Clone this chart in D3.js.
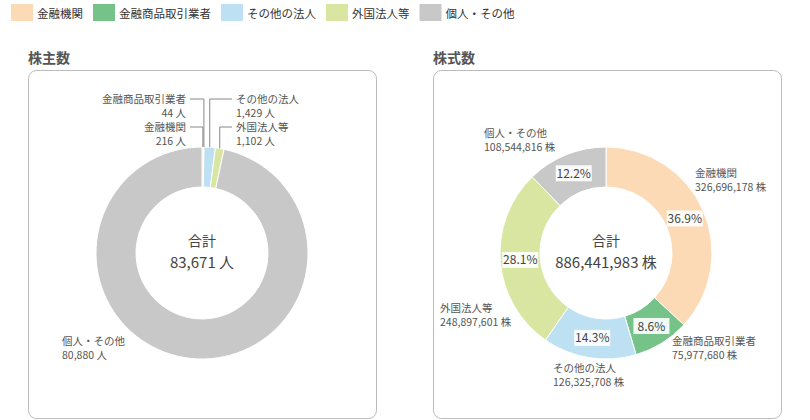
<!DOCTYPE html>
<html><head><meta charset="utf-8">
<script src="https://cdn.jsdelivr.net/npm/d3@7"></script>
<style>
body{margin:0;background:#fff;font-family:"Noto Sans CJK JP",sans-serif;}
text{font-family:"Noto Sans CJK JP",sans-serif;}
</style></head><body>
<svg id="chart" width="810" height="420"></svg>
<script>
const categories = ['金融機関', '金融商品取引業者', 'その他の法人', '外国法人等', '個人・その他'];
const colors = ['#fcdab5', '#76c38a', '#bde0f3', '#d8e6a2', '#c8c8c8'];
const holders = [216, 44, 1429, 1102, 80880];
const shares = [326696178, 75977680, 126325708, 248897601, 108544816];
const sharePct = ['36.9%', '8.6%', '14.3%', '28.1%', '12.2%'];

const svg = d3.select('#chart');
const fmt = d3.format(',');
const txtColor = '#555';

// legend, laid out by measured text width
let lx = 11;
categories.forEach((c, i) => {
  const g = svg.append('g').attr('transform', `translate(${lx},4)`);
  g.append('rect').attr('width', 22).attr('height', 17).attr('fill', colors[i]);
  const t = g.append('text').attr('x', 26).attr('y', 14).attr('font-size', 11.5).attr('fill', '#333').text(c);
  lx += 26 + t.node().getComputedTextLength() + 10;
});

// panels
const panels = [{x: 28, title: '株主数'}, {x: 433, title: '株式数'}];
panels.forEach(p => {
  svg.append('text').attr('x', p.x).attr('y', 63).attr('font-size', 14).attr('font-weight', 'bold').attr('fill', '#555').text(p.title);
  svg.append('rect').attr('x', p.x + 0.5).attr('y', 70.5).attr('width', 348).attr('height', 348).attr('rx', 8)
    .attr('fill', '#fff').attr('stroke', '#bbb');
});

const pie = d3.pie().sort(null).value(d => d);
const arc = d3.arc().innerRadius(66).outerRadius(106);

function donut(cx, cy, values, unit) {
  const g = svg.append('g').attr('transform', `translate(${cx},${cy})`);
  const arcs = pie(values);
  g.selectAll('path').data(arcs).join('path')
    .attr('d', arc).attr('fill', (d, i) => colors[i]).attr('stroke', '#fff').attr('stroke-width', 1);
  const total = d3.sum(values);
  g.append('text').attr('text-anchor', 'middle').attr('y', -7).attr('font-size', 14).attr('fill', '#444').text('合計');
  g.append('text').attr('text-anchor', 'middle').attr('y', 15).attr('font-size', 15).attr('fill', '#444').text(fmt(total) + ' ' + unit);
  return {g, arcs};
}

function label(g, x, y, anchor, lines) {
  const t = g.append('text').attr('text-anchor', anchor).attr('font-size', 10.5).attr('fill', txtColor);
  lines.forEach((l, i) => t.append('tspan').attr('x', x).attr('y', y + i * 14).text(l));
}

// left donut
const L = donut(202, 253, holders, '人');
const la = d3.arc().innerRadius(106).outerRadius(106);
const leftLab = [
  {i: 0, tx: -16, ty: -122, anchor: 'end'},
  {i: 1, tx: -16, ty: -150, anchor: 'end'},
  {i: 2, tx: 34, ty: -150, anchor: 'start'},
  {i: 3, tx: 34, ty: -122, anchor: 'start'}
];
leftLab.forEach(o => {
  const px = la.centroid(L.arcs[o.i])[0];
  const topY = -Math.sqrt(106 * 106 - px * px);
  const ly = o.ty - 4;
  const ex = o.anchor === 'end' ? o.tx + 4 : o.tx - 4;
  L.g.append('polyline').attr('points', `${ex},${ly} ${px},${ly} ${px},${topY}`)
    .attr('fill', 'none').attr('stroke', '#888').attr('stroke-width', 1);
  label(L.g, o.tx, o.ty, o.anchor, [categories[o.i], fmt(holders[o.i]) + ' 人']);
});
label(L.g, -140, 92, 'start', [categories[4], fmt(holders[4]) + ' 人']);

// right donut
const R = donut(606, 253, shares, '株');
const mid = d3.arc().innerRadius(86).outerRadius(86);
R.arcs.forEach((a, i) => {
  const c = mid.centroid(a);
  R.g.append('rect').attr('x', c[0] - 18).attr('y', c[1] - 8).attr('width', 36).attr('height', 16).attr('fill', '#fff').attr('opacity', 0.9);
  R.g.append('text').attr('x', c[0]).attr('y', c[1] + 4.5).attr('text-anchor', 'middle').attr('font-size', 12).attr('fill', '#444').text(sharePct[i]);
});
const rightPos = [[89, -76, 'start'], [66, 92, 'start'], [-53, 119, 'start'], [-166, 59, 'start'], [-122, -116, 'start']];
rightPos.forEach((p, i) => label(R.g, p[0], p[1], p[2], [categories[i], fmt(shares[i]) + ' 株']));
</script>
</body></html>
